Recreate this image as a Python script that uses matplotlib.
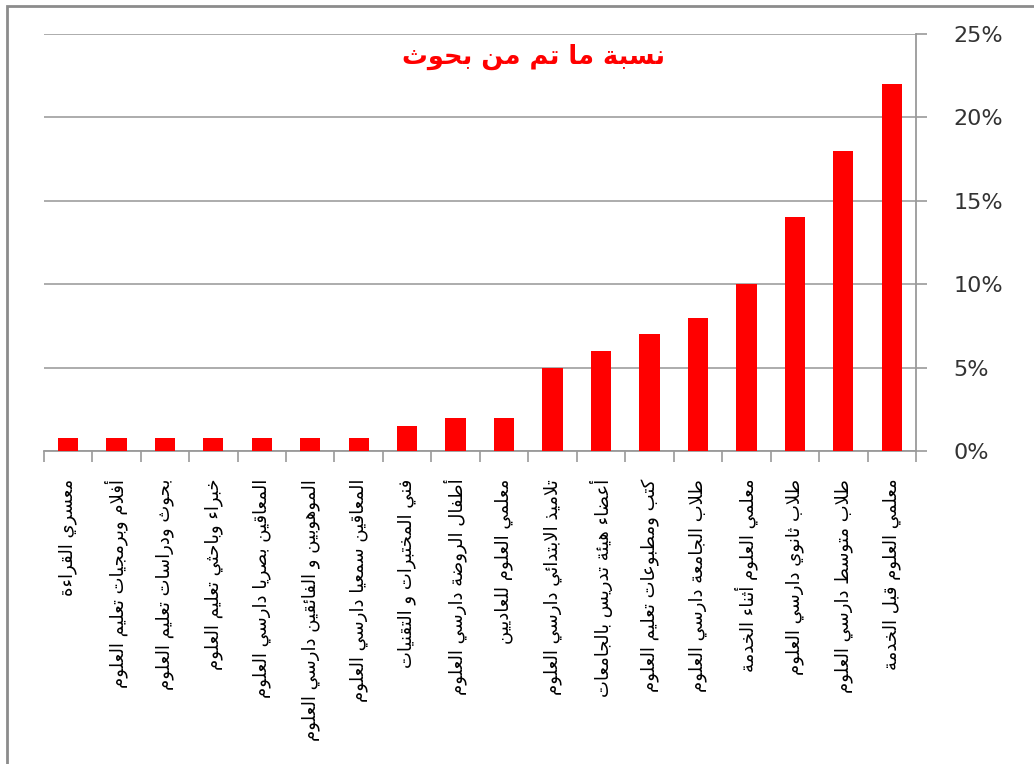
import matplotlib
matplotlib.use("Agg")
import matplotlib.pyplot as plt
from matplotlib.patches import Rectangle

# ---------------- data ----------------
categories = [
    "معسري القراءة",
    "أفلام وبرمجيات تعليم العلوم",
    "بحوث ودراسات تعليم العلوم",
    "خبراء وباحثي تعليم العلوم",
    "المعاقين بصريا دارسي العلوم",
    "الموهوبين و الفائقين دارسي العلوم",
    "المعاقين سمعيا دارسي العلوم",
    "فني المختبرات و التقنيات",
    "أطفال الروضة دارسي العلوم",
    "معلمي العلوم للعاديين",
    "تلاميذ الابتدائي دارسي العلوم",
    "أعضاء هيئة تدريس بالجامعات",
    "كتب ومطبوعات تعليم العلوم",
    "طلاب الجامعة دارسي العلوم",
    "معلمي العلوم أثناء الخدمة",
    "طلاب ثانوي دارسي العلوم",
    "طلاب متوسط دارسي العلوم",
    "معلمي العلوم قبل الخدمة",
]
values = [0.8, 0.8, 0.8, 0.8, 0.8, 0.8, 0.8, 1.5, 2, 2, 5, 6, 7, 8, 10, 14, 18, 22]
yticks = [0, 5, 10, 15, 20, 25]
ytick_labels = ["0%", "5%", "10%", "15%", "20%", "25%"]
title = "نسبة ما تم من بحوث"

# ---------------- minimal Arabic shaping ----------------
# (isolated, final, initial, medial)
FORMS = {
    'ء': (0xFE80, None, None, None),
    'آ': (0xFE81, 0xFE82, None, None),
    'أ': (0xFE83, 0xFE84, None, None),
    'ؤ': (0xFE85, 0xFE86, None, None),
    'إ': (0xFE87, 0xFE88, None, None),
    'ئ': (0xFE89, 0xFE8A, 0xFE8B, 0xFE8C),
    'ا': (0xFE8D, 0xFE8E, None, None),
    'ب': (0xFE8F, 0xFE90, 0xFE91, 0xFE92),
    'ة': (0xFE93, 0xFE94, None, None),
    'ت': (0xFE95, 0xFE96, 0xFE97, 0xFE98),
    'ث': (0xFE99, 0xFE9A, 0xFE9B, 0xFE9C),
    'ج': (0xFE9D, 0xFE9E, 0xFE9F, 0xFEA0),
    'ح': (0xFEA1, 0xFEA2, 0xFEA3, 0xFEA4),
    'خ': (0xFEA5, 0xFEA6, 0xFEA7, 0xFEA8),
    'د': (0xFEA9, 0xFEAA, None, None),
    'ذ': (0xFEAB, 0xFEAC, None, None),
    'ر': (0xFEAD, 0xFEAE, None, None),
    'ز': (0xFEAF, 0xFEB0, None, None),
    'س': (0xFEB1, 0xFEB2, 0xFEB3, 0xFEB4),
    'ش': (0xFEB5, 0xFEB6, 0xFEB7, 0xFEB8),
    'ص': (0xFEB9, 0xFEBA, 0xFEBB, 0xFEBC),
    'ض': (0xFEBD, 0xFEBE, 0xFEBF, 0xFEC0),
    'ط': (0xFEC1, 0xFEC2, 0xFEC3, 0xFEC4),
    'ظ': (0xFEC5, 0xFEC6, 0xFEC7, 0xFEC8),
    'ع': (0xFEC9, 0xFECA, 0xFECB, 0xFECC),
    'غ': (0xFECD, 0xFECE, 0xFECF, 0xFED0),
    'ف': (0xFED1, 0xFED2, 0xFED3, 0xFED4),
    'ق': (0xFED5, 0xFED6, 0xFED7, 0xFED8),
    'ك': (0xFED9, 0xFEDA, 0xFEDB, 0xFEDC),
    'ل': (0xFEDD, 0xFEDE, 0xFEDF, 0xFEE0),
    'م': (0xFEE1, 0xFEE2, 0xFEE3, 0xFEE4),
    'ن': (0xFEE5, 0xFEE6, 0xFEE7, 0xFEE8),
    'ه': (0xFEE9, 0xFEEA, 0xFEEB, 0xFEEC),
    'و': (0xFEED, 0xFEEE, None, None),
    'ى': (0xFEEF, 0xFEF0, None, None),
    'ي': (0xFEF1, 0xFEF2, 0xFEF3, 0xFEF4),
}
LAMALEF = {'آ': (0xFEF5, 0xFEF6), 'أ': (0xFEF7, 0xFEF8),
           'إ': (0xFEF9, 0xFEFA), 'ا': (0xFEFB, 0xFEFC)}


def shape(text):
    units = []
    i = 0
    while i < len(text):
        c = text[i]
        if c == 'ل' and i + 1 < len(text) and text[i + 1] in LAMALEF:
            units.append(('LA', text[i + 1]))
            i += 2
        else:
            units.append(('C', c))
            i += 1

    def joins_prev(u):
        if u[0] == 'LA':
            return True
        return u[1] in FORMS and FORMS[u[1]][1] is not None

    def joins_next(u):
        if u[0] == 'LA':
            return False
        return u[1] in FORMS and FORMS[u[1]][2] is not None

    out = []
    for k, u in enumerate(units):
        prev = units[k - 1] if k > 0 else None
        nxt = units[k + 1] if k + 1 < len(units) else None
        cp = prev is not None and joins_next(prev) and joins_prev(u)
        cn = nxt is not None and joins_next(u) and joins_prev(nxt)
        if u[0] == 'LA':
            iso, fin = LAMALEF[u[1]]
            out.append(chr(fin if cp else iso))
            continue
        c = u[1]
        if c not in FORMS:
            out.append(c)
            continue
        iso, fin, ini, med = FORMS[c]
        if cp and cn and med:
            out.append(chr(med))
        elif cp and fin:
            out.append(chr(fin))
        elif cn and ini:
            out.append(chr(ini))
        else:
            out.append(chr(iso))
    return ''.join(reversed(out))


# ---------------- figure ----------------
W, H = 1034, 764
fig = plt.figure(figsize=(W / 100, H / 100), dpi=100)
ax = fig.add_axes([43.7 / W, 1 - 451 / H, (916 - 43.7) / W, (451 - 34) / H])

x = list(range(len(categories)))
ax.bar(x, values, width=0.42, color="#ff0000", zorder=3)

ax.set_xlim(-0.5, len(categories) - 0.5)
ax.set_ylim(0, 25)
ax.set_yticks(yticks)
ax.set_yticklabels(ytick_labels)
ax.yaxis.tick_right()
ax.tick_params(axis='y', length=8, width=1.2, color="#9a9a9a", pad=19,
               labelsize=16, labelcolor="#333333")
ax.yaxis.grid(True, color="#a6a6a6", linewidth=1.3, zorder=0)

# category labels and boundary ticks
ax.set_xticks([i + 0.5 for i in range(-1, len(categories))])
ax.set_xticklabels([])
ax.set_xticks(x, minor=True)
ax.set_xticklabels([shape(c) for c in categories], minor=True,
                   rotation=90, ha='center', va='top',
                   fontsize=13, fontfamily="DejaVu Sans")
ax.tick_params(axis='x', which='major', length=8, width=1.2, color="#9a9a9a")
ax.tick_params(axis='x', which='minor', length=0, pad=20)

for s in ['top', 'left']:
    ax.spines[s].set_visible(False)
for s in ['right', 'bottom']:
    ax.spines[s].set_color("#9a9a9a")
    ax.spines[s].set_linewidth(1.3)

fig.text(534 / W, 1 - 57 / H, shape(title), color="#ff0000", fontsize=18.5,
         fontweight='bold', ha='center', va='center', fontfamily="DejaVu Sans")

# chart area border (top and left visible in reference)
fig.patches.append(Rectangle((7 / W, -0.05), 1.2, 1 - 6 / H + 0.05,
                             transform=fig.transFigure, fill=False,
                             edgecolor="#8c8c8c", linewidth=2))

fig.savefig("out.png", dpi=100)
